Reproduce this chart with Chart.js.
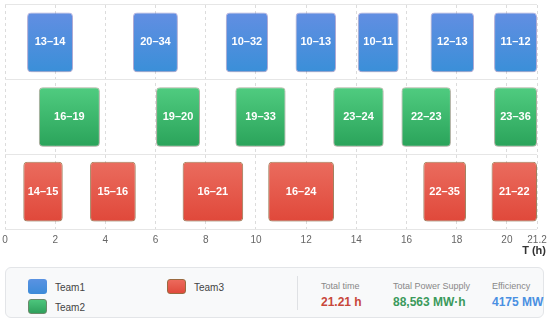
<!DOCTYPE html>
<html>
<head>
<meta charset="utf-8">
<script src="https://cdn.jsdelivr.net/npm/chart.js@4"></script>
<style>
  html, body { margin: 0; padding: 0; background: #fff; width: 550px; height: 323px; overflow: hidden; font-family: "Liberation Sans", Arial, sans-serif; }
  #wrap { position: absolute; left: 0; top: 0; width: 550px; height: 262px; }
  #panel { position: absolute; left: 5px; top: 267px; width: 539px; height: 51px; box-sizing: border-box; border: 1px solid #e3e5e8; border-radius: 6px; background: #f8f9fa; }
  .sw { position: absolute; width: 19px; height: 15px; border-radius: 3px; }
  .lt { position: absolute; font-size: 10px; color: #444; }
  .div { position: absolute; left: 291px; top: 8px; width: 1px; height: 34px; background: #dfe1e4; }
  .sl { position: absolute; top: 13px; font-size: 9px; color: #888; white-space: nowrap; }
  .sv { position: absolute; top: 27px; font-size: 12px; font-weight: bold; white-space: nowrap; }
</style>
</head>
<body>
<div id="wrap"><canvas id="chart" width="550" height="262"></canvas></div>
<div id="panel">
  <div class="sw" style="left:22px;top:11px;background:linear-gradient(#5a92e2,#3c8bd8);"></div>
  <div class="lt" style="left:49px;top:14px;">Team1</div>
  <div class="sw" style="left:22px;top:31px;background:linear-gradient(#4cc57c,#2fa05c);border:1px solid #6a8a6a;box-sizing:border-box;"></div>
  <div class="lt" style="left:49px;top:34px;">Team2</div>
  <div class="sw" style="left:161px;top:11px;background:linear-gradient(#ec6a5c,#e04a3c);border:1px solid #9a6a40;box-sizing:border-box;"></div>
  <div class="lt" style="left:188px;top:14px;">Team3</div>
  <div class="div"></div>
  <div class="sl" style="left:315px;">Total time</div>
  <div class="sv" style="left:315px;color:#c8473a;">21.21 h</div>
  <div class="sl" style="left:387px;">Total Power Supply</div>
  <div class="sv" style="left:387px;color:#3b9a5c;">88,563 MW·h</div>
  <div class="sl" style="left:486px;">Efficiency</div>
  <div class="sv" style="left:486px;color:#4a90e2;">4175 MW</div>
</div>
<script>
// rows (top to bottom)
const teams = ['Team1', 'Team2', 'Team3'];

// [start, end] in hours, and the label on each block
const team1Spans = [[0.88, 2.71], [5.10, 6.89], [8.80, 10.48], [11.58, 13.19], [14.06, 15.69], [16.96, 18.69], [19.49, 21.2]];
const team1Labels = ['13–14', '20–34', '10–32', '10–13', '10–11', '12–13', '11–12'];

const team2Spans = [[1.35, 3.78], [6.02, 7.77], [9.18, 11.18], [13.08, 15.09], [15.80, 17.77], [19.49, 21.2]];
const team2Labels = ['16–19', '19–20', '19–33', '23–24', '22–23', '23–36'];

const team3Spans = [[0.73, 2.30], [3.39, 5.21], [7.08, 9.49], [10.49, 13.11], [16.67, 18.37], [19.39, 21.2]];
const team3Labels = ['14–15', '15–16', '16–21', '16–24', '22–35', '21–22'];

const xTicks = [0, 2, 4, 6, 8, 10, 12, 14, 16, 18, 20, 21.2];
const xMax = 21.2;

function toPoints(spans, team) {
  return spans.map((s) => ({ x: s, y: team }));
}

// vertical gradient for each row
function gradFill(top, bottom, row) {
  return function (context) {
    const chart = context.chart;
    const area = chart.chartArea;
    if (!area || !chart.scales.y) return bottom;
    const yc = chart.scales.y.getPixelForValue(row);
    const half = (area.height / teams.length) * 0.4;
    const g = chart.ctx.createLinearGradient(0, yc - half, 0, yc + half);
    g.addColorStop(0, top);
    g.addColorStop(1, bottom);
    return g;
  };
}

const allLabels = [team1Labels, team2Labels, team3Labels];

const barText = {
  id: 'barText',
  afterDatasetsDraw(chart) {
    const ctx = chart.ctx;
    ctx.save();
    ctx.fillStyle = '#fff';
    ctx.font = 'bold 11px "Liberation Sans", Arial, sans-serif';
    ctx.textAlign = 'center';
    ctx.textBaseline = 'middle';
    chart.data.datasets.forEach((ds, i) => {
      chart.getDatasetMeta(i).data.forEach((bar, j) => {
        const c = bar.getCenterPoint();
        ctx.fillText(allLabels[i][j], c.x, c.y);
      });
    });
    ctx.restore();
  },
};

const barShadow = {
  id: 'barShadow',
  beforeDatasetsDraw(chart) {
    chart.ctx.save();
    chart.ctx.shadowColor = 'rgba(0,0,0,0.18)';
    chart.ctx.shadowBlur = 6;
    chart.ctx.shadowOffsetY = 2;
  },
  afterDatasetsDraw(chart) {
    chart.ctx.restore();
  },
};

const axisTitle = {
  id: 'axisTitle',
  afterDraw(chart) {
    const ctx = chart.ctx;
    const a = chart.chartArea;
    ctx.save();
    ctx.fillStyle = '#333';
    ctx.font = 'bold 11px "Liberation Sans", Arial, sans-serif';
    ctx.textAlign = 'right';
    ctx.textBaseline = 'middle';
    ctx.fillText('T (h)', a.right + 9, a.bottom + 22);
    ctx.restore();
  },
};

const ctx = document.getElementById('chart').getContext('2d');

new Chart(ctx, {
  type: 'bar',
  data: {
    labels: teams,
    datasets: [
      {
        label: 'Team1',
        data: toPoints(team1Spans, 'Team1'),
        backgroundColor: gradFill('#628ee2', '#3a8fd8', 0),
        borderColor: 'rgba(110,100,200,0.45)',
      },
      {
        label: 'Team2',
        data: toPoints(team2Spans, 'Team2'),
        backgroundColor: gradFill('#50cc80', '#2aa35a', 1),
        borderColor: 'rgba(120,120,90,0.5)',
      },
      {
        label: 'Team3',
        data: toPoints(team3Spans, 'Team3'),
        backgroundColor: gradFill('#ea6c5e', '#e0483a', 2),
        borderColor: 'rgba(150,100,50,0.75)',
      },
    ],
  },
  options: {
    indexAxis: 'y',
    responsive: false,
    animation: false,
    grouped: false,
    categoryPercentage: 0.8,
    barPercentage: 1,
    borderWidth: 1,
    borderRadius: 4,
    borderSkipped: false,
    layout: { padding: { left: 5, right: 13, top: 5, bottom: 11 } },
    plugins: {
      legend: { display: false },
      tooltip: { enabled: false },
    },
    scales: {
      x: {
        type: 'linear',
        min: 0,
        max: xMax,
        afterBuildTicks: (axis) => {
          axis.ticks = xTicks.map((v) => ({ value: v }));
        },
        afterFit: (axis) => {
          // let layout padding decide the edges
          axis.paddingLeft = 0;
          axis.paddingRight = 0;
        },
        ticks: {
          color: '#666',
          padding: 5,
          maxRotation: 0,
          autoSkip: false,
          font: { size: 10, family: '"Liberation Sans", Arial, sans-serif' },
          callback: (v) => String(v),
        },
        grid: { color: '#dcdcdc', drawTicks: false },
        border: { display: false, dash: [3, 3] },
      },
      y: {
        type: 'category',
        offset: true,
        afterFit: (axis) => {
          axis.width = 0;
        },
        ticks: { display: false },
        grid: { color: '#e6e6e6', drawTicks: false, offset: true },
        border: { display: false },
      },
    },
  },
  plugins: [barShadow, barText, axisTitle],
});
</script>
</body>
</html>
